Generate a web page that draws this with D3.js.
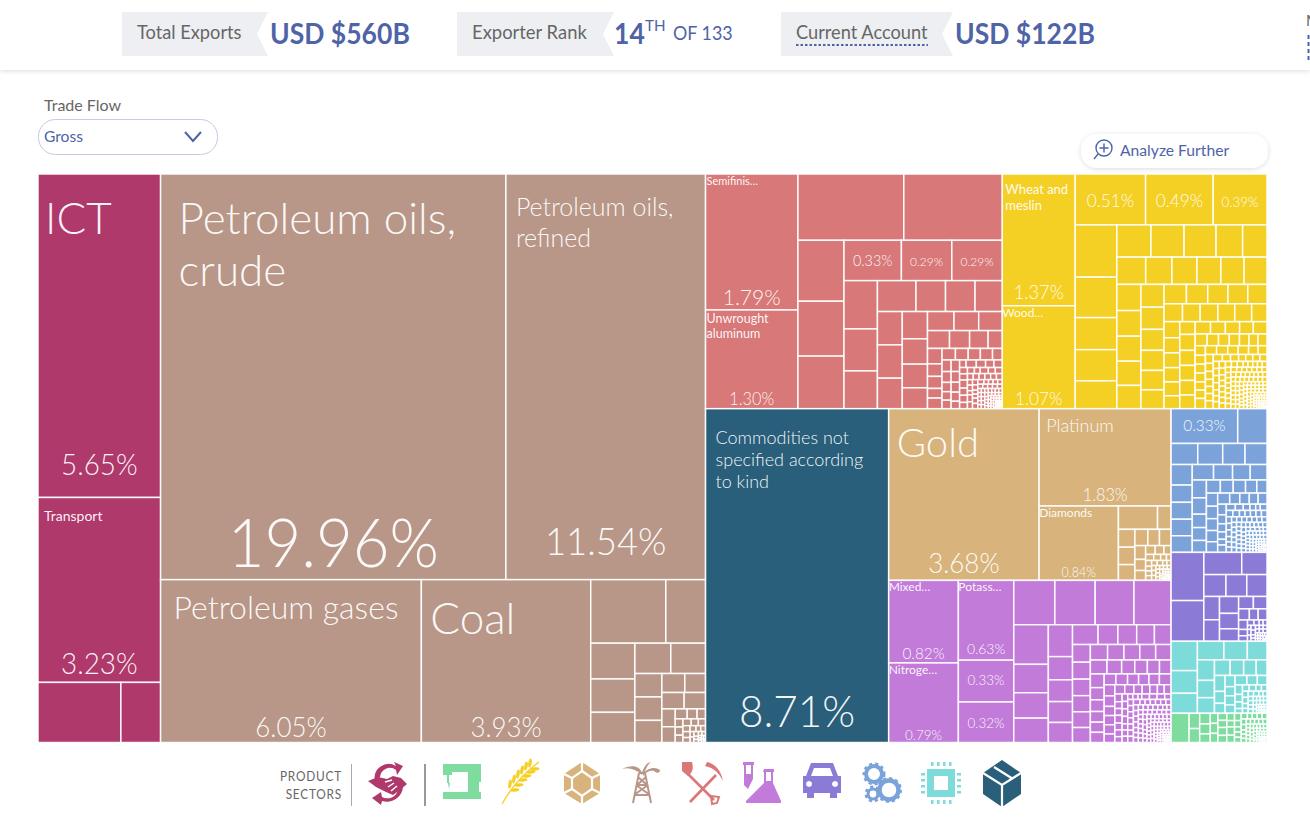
<!DOCTYPE html>
<html><head><meta charset="utf-8">
<script src="https://cdnjs.cloudflare.com/ajax/libs/d3/7.8.5/d3.min.js"></script>
<style>
html,body{margin:0;padding:0;background:#fff;overflow:hidden}
svg{display:block}
text{font-family:"Lato","Noto Sans",sans-serif}
</style></head><body>
<svg id="c" width="1310" height="837"></svg>
<script>
// ---------- DATA (percent of gross exports) ----------
const servicesValues=[5.65,3.23,.71,.34];
const mineralsValues=[19.96,11.54,6.05,3.93,.68,.36,.225,.21,.19,.155,.15,.09,.09,.085,.062,.056,.052,.05,.034,.03,.017,.014,.012,.009,.009,.008,.008,.007,.007,.006,.006,.005,.005,.004,.004,.003,.003,.003,.002,.002,.002,.002,.001,.001,.001,.001,.001,.001,.0005,.0005];
const metalsValues=[1.79,1.30,1.0,.93,.40,.36,.345,.33,.29,.29,.23,.20,.18,.17,.13,.13,.12,.118,.118,.108,.098,.091,.085,.075,.072,.067,.064,.056,.051,.047,.036,.032,.026,.025,.02,.022,.022,.021,.02,.02,.016,.015,.014,.012,.011,.011,.014,.013,.012,.011,.009,.007,.011,.01,.009,.009,.007,.007,.009,.008,.008,.007,.006,.005,.007,.006,.006,.005,.005,.005,.005,.005,.005,.004,.004,.003,.005,.005,.004,.004,.003,.003,.004,.004,.004,.003,.003,.003,.003,.003,.003,.003,.003,.003,.002,.002,.002,.002,.002,.002,.002,.002,.002,.002,.002,.002,.002,.002,.002,.002,.0015,.0015,.0015,.0015,.0015,.0015,.0015,.0015,.0015,.0015,.001,.001,.001,.001,.001,.001,.001,.001,.001,.001,.001,.001,.001,.001,.001,.0005,.0005,.0005,.0005,.0005,.0005,.0005,.0005,.0005,.0005,.0005,.0005,.0005,.0005,.0005,.0005];
const agricultureValues=[1.37,1.07,.51,.49,.39,.31,.24,.19,.185,.165,.157,.152,.147,.122,.112,.112,.102,.097,.093,.09,.089,.09,.088,.086,.083,.08,.075,.073,.069,.066,.064,.062,.062,.059,.056,.055,.053,.047,.045,.045,.043,.043,.039,.036,.034,.033,.032,.031,.029,.028,.035,.033,.033,.032,.03,.027,.026,.025,.024,.024,.02,.019,.018,.017,.016,.015,.015,.014,.013,.013,.013,.012,.012,.015,.014,.014,.013,.013,.012,.011,.01,.009,.009,.008,.008,.008,.009,.009,.008,.008,.007,.007,.007,.007,.006,.006,.006,.006,.005,.005,.006,.006,.006,.005,.005,.005,.005,.005,.005,.005,.005,.005,.004,.004,.004,.004,.004,.004,.004,.004,.004,.004,.004,.004,.004,.004,.0035,.0035,.0035,.0035,.0035,.0035,.0035,.0035,.003,.003,.003,.003,.003,.003,.003,.003,.003,.003,.003,.003,.003,.003,.003,.003,.003,.003,.003,.003,.0025,.0025,.0025,.0025,.0025,.0025,.0025,.0025,.0025,.0025,.002,.002,.002,.002,.002,.002,.002,.002,.002,.002,.002,.002,.002,.002,.002,.002,.002,.002,.002,.002,.002,.002,.002,.002,.002,.002,.0015,.0015,.0015,.0015,.0015,.0015,.0015,.0015,.0015,.0015,.0015,.0015,.001,.001,.001,.001,.001,.001,.001,.001,.001,.001,.001,.001,.001,.001,.001,.001,.0007,.0007,.0007,.0007,.0007,.0007,.0007,.0007,.0005,.0005,.0005,.0005,.0005,.0005,.0005,.0005];
const commoditiesValues=[8.71];
const goldValues=[3.68,1.83,.84,.13,.045,.042,.041,.037,.03,.027,.027,.021,.017,.015,.012,.011,.009,.007,.006,.005,.004,.005,.004,.004,.004,.004,.004,.003,.003,.003,.003,.003,.002,.002,.002,.002,.002,.002,.002,.002,.001,.001,.001,.001,.001,.001,.001,.001,.001,.001,.0005,.0005,.0005,.0005,.0005,.0005,.0005,.0005,.0005,.0005,.0005,.0005];
const chemicalsValues=[.82,.79,.63,.33,.32,.26,.255,.245,.235,.195,.14,.125,.12,.11,.08,.075,.072,.069,.072,.056,.053,.05,.047,.045,.043,.042,.041,.04,.038,.038,.036,.035,.035,.034,.033,.029,.026,.025,.024,.023,.027,.024,.023,.021,.02,.02,.018,.018,.017,.016,.016,.018,.017,.016,.014,.014,.014,.013,.013,.012,.011,.01,.01,.009,.009,.008,.007,.007,.008,.007,.007,.006,.006,.006,.006,.006,.005,.005,.005,.004,.004,.003,.006,.006,.006,.005,.005,.005,.005,.005,.005,.005,.005,.005,.004,.004,.004,.004,.004,.004,.004,.004,.004,.004,.0035,.0035,.0035,.0035,.0035,.0035,.0035,.0035,.003,.003,.003,.003,.003,.003,.003,.003,.003,.003,.003,.003,.003,.003,.003,.003,.003,.003,.0025,.0025,.0025,.0025,.0025,.0025,.0025,.0025,.0025,.0025,.002,.002,.002,.002,.002,.002,.002,.002,.002,.002,.002,.002,.002,.002,.002,.002,.002,.002,.002,.002,.0015,.0015,.0015,.0015,.0015,.0015,.0015,.0015,.0015,.0015,.001,.001,.001,.001,.001,.001,.001,.001,.001,.001,.001,.001,.001,.001,.0007,.0007,.0007,.0007,.0007,.0007,.0007,.0007,.0005,.0005,.0005,.0005,.0005,.0005,.0005,.0005];
const machineryValues=[.33,.145,.08,.075,.067,.066,.062,.052,.051,.05,.05,.047,.042,.039,.037,.036,.033,.027,.026,.024,.026,.024,.023,.021,.019,.021,.02,.019,.018,.017,.019,.016,.015,.014,.014,.013,.011,.01,.009,.007,.009,.008,.007,.006,.005,.004,.006,.006,.006,.005,.005,.005,.005,.005,.005,.005,.005,.004,.004,.004,.004,.004,.004,.004,.004,.004,.004,.0035,.0035,.0035,.0035,.0035,.0035,.003,.003,.003,.003,.003,.003,.003,.003,.003,.003,.003,.003,.003,.003,.0025,.0025,.0025,.0025,.0025,.0025,.0025,.0025,.002,.002,.002,.002,.002,.002,.002,.002,.002,.002,.002,.002,.002,.002,.002,.002,.002,.002,.0015,.0015,.0015,.0015,.0015,.0015,.0015,.0015,.001,.001,.001,.001,.001,.001,.001,.001,.001,.001,.001,.001,.0007,.0007,.0007,.0007,.0007,.0007,.0005,.0005,.0005,.0005,.0005,.0005,.0005,.0005];
const vehiclesValues=[.225,.19,.12,.08,.069,.065,.063,.052,.048,.046,.042,.034,.026,.024,.017,.014,.014,.012,.008,.007,.005,.004,.003,.003,.002,.003,.003,.003,.003,.002,.002,.002,.002,.002,.002,.002,.002,.001,.001,.001,.001,.001,.001,.001,.001,.001,.001,.001,.001,.0005,.0005,.0005,.0005];
const electronicsValues=[.11,.085,.075,.07,.062,.052,.05,.042,.038,.035,.03,.028,.024,.024,.018,.015,.016,.013,.013,.012,.016,.014,.013,.01,.008,.007,.005,.006,.006,.005,.005,.005,.005,.004,.004,.004,.004,.003,.003,.003,.003,.003,.003,.002,.002,.002,.002,.002,.002,.002,.002,.002,.002,.001,.001,.001,.001,.001,.001,.001,.001,.001,.001,.0005,.0005,.0005,.0005,.0005,.0005];
const textilesValues=[.075,.023,.021,.016,.015,.013,.011,.011,.01,.009,.009,.01,.009,.008,.007,.009,.008,.007,.006,.005,.005,.005,.005,.004,.004,.004,.004,.004,.004,.003,.003,.003,.003,.003,.003,.003,.003,.002,.002,.002,.002,.002,.002,.002,.002,.002,.002,.002,.002,.0015,.0015,.0015,.0015,.0015,.0015,.0015,.0015,.001,.001,.001,.001,.001,.001,.001,.001,.001,.001,.001,.001,.0005,.0005,.0005,.0005,.0005,.0005,.0005,.0005,.0005,.0005,.0005,.0005];

const productNames={
 services:{0:["ICT"],1:["Transport"]},
 minerals:{0:["Petroleum oils,","crude"],1:["Petroleum oils,","refined"],2:["Petroleum gases"],3:["Coal"]},
 metals:{0:["Semifinis…"],1:["Unwrought","aluminum"]},
 agriculture:{0:["Wheat and","meslin"],1:["Wood…"]},
 commodities:{0:["Commodities not","specified according","to kind"]},
 gold:{0:["Gold"],1:["Platinum"],2:["Diamonds"]},
 chemicals:{0:["Mixed…"],1:["Nitroge…"],2:["Potass…"]}
};
const headerLabels=["Total Exports","Exporter Rank","Current Account"];
const headerValues=["USD $560B","14","USD $122B"];
const sectorTitle=["PRODUCT","SECTORS"];

// ---------- STYLES ----------
const sectorColor={services:"#b0396c",minerals:"#b99788",metals:"#d87878",agriculture:"#f5d024",commodities:"#2a5f7c",gold:"#d8b47c",chemicals:"#c27bd9",machinery:"#7ba3d9",vehicles:"#8c7bd6",electronics:"#7ddcd9",textiles:"#7fdc9f"};
// i:[nameSize,nameDx,nameDy,lineHeight,pctSize,pctPad]
const labelStyle={
 services:{0:[44,7,60,0,29,22],1:[14,6,24,0,29,8]},
 minerals:{0:[44,18,60,52,66,13],1:[25,10,42,31,38,25],2:[32,13,39,0,27,6],3:[44,9,54,0,27,6]},
 metals:{0:[11,1,11,0,22,5],1:[12.5,1,13,15,17,4],7:[0,0,0,0,15,15],8:[0,0,0,0,12.5,15],9:[0,0,0,0,12.5,15]},
 agriculture:{0:[13,3,20,16,19,7],1:[12,0,11,0,18,4],2:[0,0,0,0,18,18],3:[0,0,0,0,18,18],4:[0,0,0,0,14,18]},
 commodities:{0:[18,10,35,22,44,16]},
 gold:{0:[40,8,48,0,27,7],1:[18,7,23,0,17,5],2:[12,0,11,0,13,3]},
 chemicals:{0:[12,0,11,0,16,4],1:[12,0,11,0,14,3],2:[12,0,11,0,14.5,6],3:[0,0,0,0,14,17],4:[0,0,0,0,14,15]},
 machinery:{0:[0,0,0,0,16,12]}
};

// ---------- LAYOUT ----------
const leaves=(key,vals)=>({sector:key,children:vals.map((v,i)=>({sector:key,index:i,value:v}))});
const tree={tile:"dice",children:[
 leaves("services",servicesValues),
 leaves("minerals",mineralsValues),
 {tile:"slice",children:[
  {tile:"dice",children:[leaves("metals",metalsValues),leaves("agriculture",agricultureValues)]},
  {tile:"dice",children:[
   leaves("commodities",commoditiesValues),
   {tile:"slice",children:[leaves("gold",goldValues),leaves("chemicals",chemicalsValues)]},
   {tile:"slice",children:[leaves("machinery",machineryValues),leaves("vehicles",vehiclesValues),leaves("electronics",electronicsValues),leaves("textiles",textilesValues)]}
  ]}
 ]}
]};
const root=d3.hierarchy(tree).sum(d=>d.value||0);
const squarify=d3.treemapSquarify.ratio(1);
d3.treemap().size([1229,568.5]).tile((n,a,b,c,e)=>{
  if(n.data.tile==="dice")d3.treemapDice(n,a,b,c,e);
  else if(n.data.tile==="slice")d3.treemapSlice(n,a,b,c,e);
  else squarify(n,a,b,c,e);
})(root);

const svg=d3.select("#c");
const defs=svg.append("defs");
const sh=defs.append("filter").attr("id","sh").attr("x","-10%").attr("y","-30%").attr("width","120%").attr("height","170%");
sh.append("feDropShadow").attr("dx",0).attr("dy",1).attr("stdDeviation",2.5).attr("flood-color","#000").attr("flood-opacity",.14);

function txt(p,x,y,s,size,fill,weight,anchor,k){
  const g=p.append("g").attr("transform",`translate(${x},${y}) scale(${k==null?1:k},1)`);
  return g.append("text").text(s).attr("font-size",size).attr("fill",fill).attr("font-weight",weight||400).attr("text-anchor",anchor||"start");
}

// ---------- HEADER ----------
svg.append("rect").attr("width",1310).attr("height",70).attr("fill","#fff").attr("filter","url(#sh)");
const blue="#4f63a7",grey="#666";
[[122,268,257],[457,614,603],[781,953,942]].forEach((t,i)=>{
  svg.append("path").attr("d",`M${t[0]},12H${t[1]}L${t[2]},34L${t[1]},56H${t[0]}Z`).attr("fill","#eeeff3");
});
txt(svg,137,39,headerLabels[0],19,grey,400,"start",.96);
txt(svg,472,39,headerLabels[1],19,grey,400,"start",.97);
txt(svg,796,39,headerLabels[2],19,grey,400,"start",.96);
svg.append("line").attr("x1",796).attr("x2",928).attr("y1",45).attr("y2",45).attr("stroke",blue).attr("stroke-width",2).attr("stroke-dasharray","2.5 2");
txt(svg,270,44,headerValues[0],29,blue,700,"start",.915);
txt(svg,614,44,headerValues[1],29,blue,700,"start",.915);
txt(svg,645,31,"TH",16,blue,400,"start",.95);
txt(svg,673,40,"OF 133",19,blue,400,"start",.94);
txt(svg,955,44,headerValues[2],29,blue,700,"start",.915);
txt(svg,1306,26,"M",15,grey);
svg.append("line").attr("x1",1308.5).attr("x2",1308.5).attr("y1",35).attr("y2",61).attr("stroke",blue).attr("stroke-width",2).attr("stroke-dasharray","4 3");

// Trade flow control
txt(svg,44,111,"Trade Flow",16,grey);
svg.append("rect").attr("x",38.5).attr("y",119.5).attr("width",179).attr("height",35).attr("rx",17).attr("fill","#fff").attr("stroke","#c5cce3");
txt(svg,44,142,"Gross",15,blue,400,"start",1.04);
svg.append("path").attr("d","M185,132L193,141L201,132").attr("fill","none").attr("stroke",blue).attr("stroke-width",2);

// Analyze Further
svg.append("rect").attr("x",1081).attr("y",134).attr("width",187).attr("height",34).attr("rx",16).attr("fill","#fff").attr("filter","url(#sh)");
const mg=svg.append("g").attr("fill","none").attr("stroke",blue).attr("stroke-width",1.4);
mg.append("circle").attr("cx",1104).attr("cy",148).attr("r",8);
mg.append("path").attr("d","M1098,154L1094,159M1104,143.5V152.5M1099.5,148H1108.5");
txt(svg,1120,156,"Analyze Further",16,blue,400,"start",.98);

// ---------- TREEMAP ----------
const chart=svg.append("g").attr("transform","translate(38,174)");
const leafNodes=root.leaves();
chart.selectAll("rect").data(leafNodes).join("rect")
 .attr("x",d=>d.x0).attr("y",d=>d.y0)
 .attr("width",d=>d.x1-d.x0).attr("height",d=>d.y1-d.y0)
 .attr("fill",d=>sectorColor[d.data.sector])
 .attr("stroke","#fff").attr("stroke-width",1.5).attr("stroke-opacity",.92);

leafNodes.forEach(d=>{
  const st=(labelStyle[d.data.sector]||{})[d.data.index];
  if(!st)return;
  const names=(productNames[d.data.sector]||{})[d.data.index]||[];
  names.forEach((s,i)=>txt(chart,d.x0+st[1],d.y0+st[2]+i*st[3],s,st[0],"#fff",st[0]<16?400:300,"start",1).attr("fill-opacity",.95));
  txt(chart,(d.x0+d.x1)/2,d.y1-st[5],d.data.value.toFixed(2)+"%",st[4],"#fff",300,"middle",.96).attr("fill-opacity",.95);
});

// ---------- SECTOR LEGEND ----------
txt(svg,342,781,sectorTitle[0],12.5,"#666",400,"end",.95).attr("letter-spacing",.8);
txt(svg,342,799,sectorTitle[1],12.5,"#666",400,"end",.95).attr("letter-spacing",.8);
svg.append("line").attr("x1",351.5).attr("x2",351.5).attr("y1",764).attr("y2",806).attr("stroke","#aaa");
svg.append("line").attr("x1",425).attr("x2",425).attr("y1",764).attr("y2",806).attr("stroke","#999").attr("stroke-width",2);

const icon=(x,c,y)=>svg.append("g").attr("transform",`translate(${x},${y||783})`).attr("fill",c).attr("stroke","none");
// services: handshake in two arrows
let g=icon(388,sectorColor.services);
g.append("path").attr("d","M-13,-2A14,14 0 0 1 8,-17L6,-21L15,-17L9,-8L8,-13A10,10 0 0 0 -8,-6Z");
g.append("path").attr("d","M15,3A16,16 0 0 1 -6,18L-7,22L-16,15L-7,9L-6,14A11,11 0 0 0 10,7Z");
g.append("path").attr("d","M-20,-2L-10,-6L-1,-4L5,-7L13,-5L19,1L12,7L5,12L-2,9L-12,4Z");
g.append("path").attr("d","M-3,-1L4,-3M0,4L6,0M3,8L9,3").attr("stroke","#fff").attr("stroke-width",1.5).attr("fill","none");
// textiles: sewing machine
g=icon(462,sectorColor.textiles,785);
g.append("path").attr("d","M-19,-21H19V-3H17V7H19V14H-19V7H6V-13H-10V-10H-13V-2H-15V-10H-19Z");
g.append("path").attr("d","M-14,-2L-13,4L-12,-2Z");
// agriculture: wheat
g=icon(521,sectorColor.agriculture);
g.append("path").attr("d","M-19,21C-10,5 0,-8 18,-21").attr("fill","none").attr("stroke",sectorColor.agriculture).attr("stroke-width",1.3);
[[-9,4],[-5,-1],[-1,-6],[3,-10],[7,-14],[11,-17]].forEach(p=>{
  g.append("ellipse").attr("cx",p[0]+3).attr("cy",p[1]+3).attr("rx",4.5).attr("ry",1.7).attr("transform",`rotate(-5 ${p[0]+3} ${p[1]+3})`);
  g.append("ellipse").attr("cx",p[0]-2).attr("cy",p[1]-3).attr("rx",4.5).attr("ry",1.7).attr("transform",`rotate(-80 ${p[0]-2} ${p[1]-3})`);
});
// gold: gem
g=icon(582,sectorColor.gold);
g.append("path").attr("d","M0,-21L18,-9V10L0,21L-18,10V-9Z");
g.append("path").attr("d","M0,-12L10,-5V6L0,13L-10,6V-5Z").attr("fill","none").attr("stroke","#fff").attr("stroke-width",2.2);
g.append("path").attr("d","M-18,-9L-10,-5M18,-9L10,-5M-18,10L-10,6M18,10L10,6M0,-21V-12M0,21V13").attr("stroke","#fff").attr("stroke-width",2.2);
// minerals: derrick
g=icon(642,sectorColor.minerals);
g.append("path").attr("d","M-3,-10L-9,20M3,-10L9,20M-3,-10H3M-6,2H6M-8,12H8M-6,2L8,12M6,2L-8,12M-4,-6L5,2M4,-6L-5,2").attr("stroke",sectorColor.minerals).attr("stroke-width",2).attr("fill","none");
g.append("path").attr("d","M0,-10C-2,-17 -10,-19 -20,-14C-14,-16 -6,-14 0,-8Z");
g.append("path").attr("d","M0,-10C2,-16 4,-20 9,-21C5,-18 4,-14 2,-9Z");
g.append("path").attr("d","M1,-9C5,-15 13,-17 18,-13C18,-10 15,-9 12,-12C8,-13 4,-11 1,-7Z");
// metals: shovel & pick
g=icon(702,sectorColor.metals);
g.append("path").attr("d","M-20,-21H-10C-8,-14 -10,-10 -14,-7L-20,-12Z");
g.append("path").attr("d","M-14,-9L12,17M14,-8L-12,19").attr("stroke",sectorColor.metals).attr("stroke-width",2.6).attr("fill","none");
g.append("path").attr("d","M5,-21C14,-19 19,-12 21,-2C17,-10 12,-15 3,-17Z");
g.append("path").attr("d","M9,13L17,14L15,20L10,21Z").attr("fill","none").attr("stroke",sectorColor.metals).attr("stroke-width",2);
// chemicals: tube + flask
g=icon(761,sectorColor.chemicals);
g.append("path").attr("d","M-18,-21H-7V-18H-8V-4L-13,6L-17,2V-18H-18ZM-15,-18V-9H-10V-18Z").attr("fill-rule","evenodd");
g.append("path").attr("d","M3,-14H13V-11H12V0L20,18V20H-15V18L3,0V-11H2ZM5,-11V-2H10V-11Z").attr("fill-rule","evenodd");
// vehicles: car
g=icon(822,sectorColor.vehicles);
g.append("path").attr("d","M-11,-20H11L16,-7H19V10H15V15H8V10H-8V15H-15V10H-19V-7H-16ZM-8,-15L-11,-7H11L8,-15ZM-13,-2A3,3 0 1 0 -12.9,-2ZM13,-2A3,3 0 1 0 13.1,-2Z").attr("fill-rule","evenodd");
// machinery: gears
g=icon(882,sectorColor.machinery);
[[-8,-9,8,2.8],[7,7,9.5,3.2],[-9,11,5,2]].forEach(q=>{
  g.append("circle").attr("cx",q[0]).attr("cy",q[1]).attr("r",q[2]).attr("fill","none").attr("stroke",sectorColor.machinery).attr("stroke-width",q[3]+1.2);
  g.append("circle").attr("cx",q[0]).attr("cy",q[1]).attr("r",q[2]+2).attr("fill","none").attr("stroke",sectorColor.machinery).attr("stroke-width",3).attr("stroke-dasharray","3 3");
});
// electronics: chip
g=icon(941,sectorColor.electronics);
g.append("path").attr("d","M-14,-14H14V14H-14ZM-7,-7V7H7V-7Z").attr("fill-rule","evenodd");
[-10,-4,2,8].forEach(v=>{
  g.append("rect").attr("x",v).attr("y",-21).attr("width",2.5).attr("height",4);
  g.append("rect").attr("x",v).attr("y",17).attr("width",2.5).attr("height",4);
  g.append("rect").attr("x",-20).attr("y",v).attr("width",4).attr("height",2.5);
  g.append("rect").attr("x",16).attr("y",v).attr("width",4).attr("height",2.5);
});
// commodities: box
g=icon(1002,sectorColor.commodities);
g.append("path").attr("d","M0,-23L19,-10V11L0,24L-19,11V-10Z");
g.append("path").attr("d","M-19,-10L0,2L19,-10M0,2V24M-8,-16L11,-4").attr("stroke","#fff").attr("stroke-width",2.2).attr("fill","none");
</script>
</body></html>
